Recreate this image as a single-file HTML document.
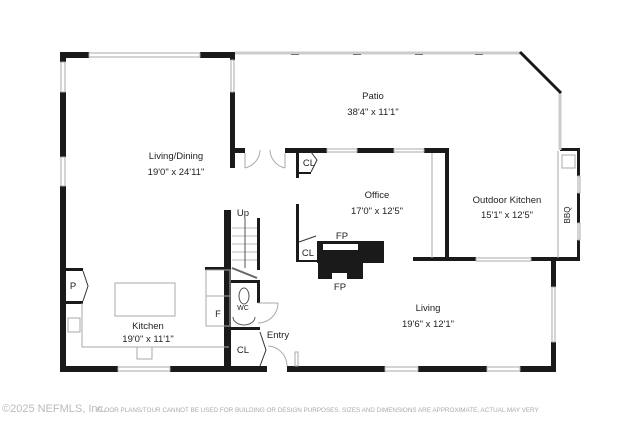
<!DOCTYPE html>
<html><head><style>
html,body{margin:0;padding:0;background:#fff;width:640px;height:427px;overflow:hidden}
svg{display:block}
text{font-family:"Liberation Sans",sans-serif;fill:#222}
</style></head><body>
<svg width="640" height="427" viewBox="0 0 640 427">
<g fill="#1a1a1a">
<rect x="60" y="52" width="29" height="6"/>
<rect x="200" y="52" width="35" height="6"/>
<rect x="60" y="52" width="6" height="10"/>
<rect x="60" y="92" width="6" height="65"/>
<rect x="60" y="186" width="6" height="186"/>
<rect x="230" y="52" width="5" height="8"/>
<rect x="230" y="92" width="5" height="76"/>
<rect x="230" y="148" width="15" height="5"/>
<rect x="285" y="148" width="42" height="5"/>
<rect x="357" y="148" width="37" height="5"/>
<rect x="424" y="148" width="25" height="5"/>
<rect x="445" y="148" width="4" height="112"/>
<rect x="296" y="148" width="3" height="30"/>
<rect x="296" y="172" width="15" height="2"/>
<rect x="296" y="204" width="3" height="58"/>
<rect x="296" y="260" width="22" height="2"/>
<rect x="413" y="257" width="63" height="4"/>
<rect x="531" y="257" width="49" height="4"/>
<rect x="551" y="257" width="5" height="30"/>
<rect x="551" y="342" width="5" height="30"/>
<rect x="560" y="148" width="20" height="3"/>
<rect x="577" y="148" width="3" height="28"/>
<rect x="577" y="193" width="3" height="30"/>
<rect x="577" y="240" width="3" height="21"/>
<rect x="291" y="52" width="8" height="3"/>
<rect x="353" y="52" width="8" height="3"/>
<rect x="415" y="52" width="8" height="3"/>
<rect x="475" y="52" width="8" height="3"/>
<rect x="60" y="366" width="58" height="6"/>
<rect x="170" y="366" width="97" height="6"/>
<rect x="287" y="366" width="98" height="6"/>
<rect x="418" y="366" width="69" height="6"/>
<rect x="520" y="366" width="36" height="6"/>
<rect x="224" y="210" width="7" height="160"/>
<rect x="257" y="218" width="3" height="52"/>
<rect x="205" y="267" width="26" height="3"/>
<rect x="231" y="280" width="29" height="3"/>
<rect x="257" y="283" width="3" height="20"/>
<rect x="231" y="327" width="29" height="3"/>
<rect x="65" y="268" width="18" height="3"/>
<rect x="65" y="301" width="18" height="3"/>
<rect x="317" y="241" width="67" height="22"/>
<rect x="318" y="255" width="45" height="24"/>
</g>
<rect x="323" y="244" width="35" height="6" fill="#fff"/>
<rect x="332" y="273" width="15" height="6" fill="#fff"/>
<g fill="none" stroke="#aaa" stroke-width="1">
<rect x="89" y="53" width="111" height="4"/>
<rect x="61" y="62" width="4" height="30"/>
<rect x="61" y="157" width="4" height="29"/>
<rect x="231" y="60" width="3" height="32"/>
<line x1="235" y1="53" x2="520" y2="53" stroke-width="3" stroke="#ccc"/>
<line x1="560" y1="93" x2="560" y2="150" stroke-width="3" stroke="#ccc"/>
<rect x="327" y="149" width="30" height="3"/>
<rect x="394" y="149" width="30" height="3"/>
<line x1="432" y1="153" x2="432" y2="258"/>
<line x1="558" y1="151" x2="558" y2="258"/>
<rect x="476" y="258" width="55" height="3"/>
<rect x="578" y="176" width="2" height="17"/>
<rect x="578" y="223" width="2" height="17"/>
<rect x="552" y="287" width="3" height="55"/>
<rect x="118" y="367" width="52" height="4"/>
<rect x="385" y="367" width="33" height="4"/>
<rect x="487" y="367" width="33" height="4"/>
<rect x="115" y="283" width="60" height="33"/>
<polyline points="82,303 82,347 229,347"/>
<rect x="206" y="270" width="24" height="56"/>
<line x1="206" y1="296" x2="230" y2="296"/>
<rect x="68" y="318" width="12" height="14"/>
<rect x="137" y="347" width="15" height="12"/>
<rect x="562" y="155" width="13" height="13"/>
<rect x="295" y="352" width="3" height="14"/>
<line x1="258" y1="303" x2="278" y2="303"/><path d="M278,303 A20,20 0 0 1 258,323"/>
<path d="M287,366 A20,20 0 0 0 268,346"/>
<path d="M245,168 A19,19 0 0 0 260,150 M285,168 A19,19 0 0 1 270,150"/>
<line x1="245" y1="153" x2="245" y2="168"/><line x1="285" y1="153" x2="285" y2="168"/>
<path d="M311,152 L317,160 L311,172" stroke="#333"/>
<path d="M299,242 L316,236" stroke="#333"/>
<path d="M83,271 L88,286 L83,301" stroke="#333"/>
<path d="M260,332 L266,350 L260,366" stroke="#333"/>
</g>
<g stroke="#bbb" stroke-width="1">
<line x1="232" y1="228" x2="257" y2="228"/><line x1="232" y1="236" x2="257" y2="236"/>
<line x1="232" y1="244" x2="257" y2="244"/><line x1="232" y1="252" x2="257" y2="252"/>
<line x1="232" y1="260" x2="257" y2="260"/>
<line x1="245" y1="218" x2="245" y2="268" stroke="#555"/>
<line x1="232" y1="268" x2="257" y2="278" stroke="#666" stroke-width="2"/>
</g>
<path d="M255,317 a11,8 0 0 1 -22,0" fill="none" stroke="#555"/>
<ellipse cx="244" cy="296" rx="5" ry="8" fill="none" stroke="#555"/>
<line x1="520" y1="52" x2="561" y2="93" stroke="#1a1a1a" stroke-width="3"/>
<g font-size="9.5" text-anchor="middle">
<text x="176" y="159">Living/Dining</text><text x="176" y="175">19'0" x 24'11"</text>
<text x="373" y="99">Patio</text><text x="373" y="115">38'4" x 11'1"</text>
<text x="377" y="198">Office</text><text x="377" y="214">17'0" x 12'5"</text>
<text x="507" y="203">Outdoor Kitchen</text><text x="507" y="218">15'1" x 12'5"</text>
<text x="428" y="311">Living</text><text x="428" y="327">19'6" x 12'1"</text>
<text x="148" y="329">Kitchen</text><text x="148" y="342">19'0" x 11'1"</text>
<text x="243" y="216">Up</text>
<text x="309" y="166">CL</text><text x="308" y="256">CL</text><text x="243" y="353">CL</text>
<text x="342" y="239">FP</text><text x="340" y="290">FP</text>
<text x="73" y="289">P</text><text x="218" y="317">F</text>
<text x="278" y="338">Entry</text>
<text x="243" y="310" font-size="7">WC</text>
<text transform="translate(570,215) rotate(-90)" font-size="8">BBQ</text>
</g>
<text x="2" y="412" font-size="11" style="fill:#bbb">©2025 NEFMLS, Inc.</text>
<text x="97" y="412" font-size="6.3" style="fill:#aaa">FLOOR PLANS/TOUR CANNOT BE USED FOR BUILDING OR DESIGN PURPOSES. SIZES AND DIMENSIONS ARE APPROXIMATE, ACTUAL MAY VERY</text>
</svg>
</body></html>
